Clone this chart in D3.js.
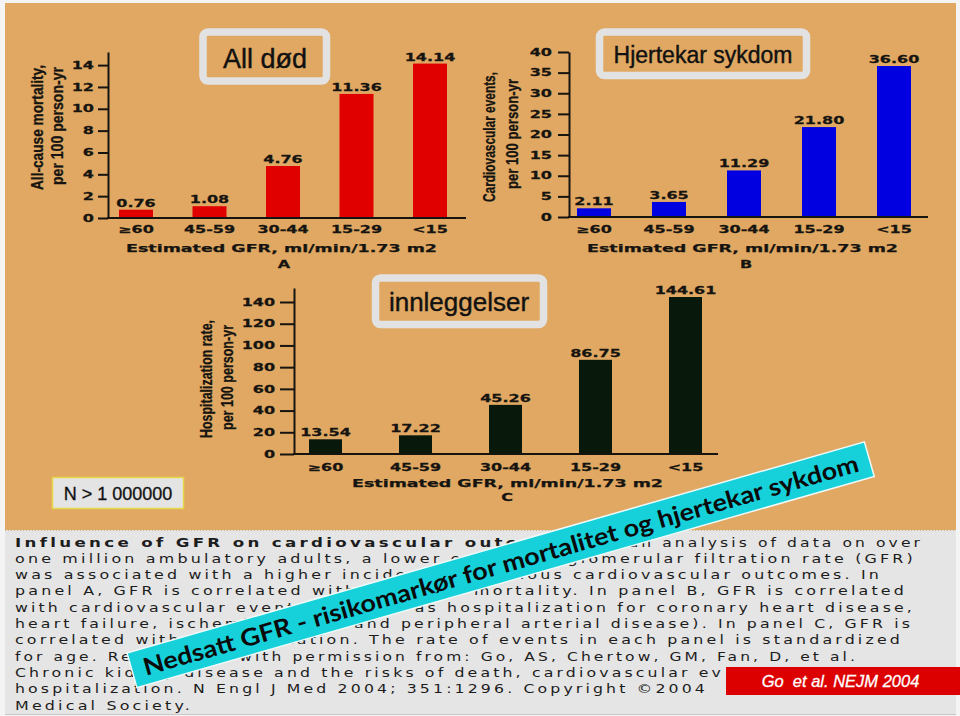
<!DOCTYPE html>
<html><head><meta charset="utf-8">
<script src="https://cdn.jsdelivr.net/npm/d3@7"></script>
<style>html,body{margin:0;padding:0;background:#fff}svg{display:block}</style>
</head><body>
<svg id="c" width="960" height="716"></svg>
<script>
// ---------------- data ----------------
const categories = ["\u226560", "45-59", "30-44", "15-29", "<15"];
const mortality = [0.76, 1.08, 4.76, 11.36, 14.14];
const cvEvents = [2.11, 3.65, 11.29, 21.80, 36.60];
const hospitalization = [13.54, 17.22, 45.26, 86.75, 144.61];
const ticksA = [0, 2, 4, 6, 8, 10, 12, 14];
const ticksB = [0, 5, 10, 15, 20, 25, 30, 35, 40];
const ticksC = [0, 20, 40, 60, 80, 100, 120, 140];
const xTitle = "Estimated GFR, ml/min/1.73 m2";
const panelTitles = ["All d\u00f8d", "Hjertekar sykdom", "innleggelser"];
const yLabelsA = ["All-cause mortality,", "per 100 person-yr"];
const yLabelsB = ["Cardiovascular events,", "per 100 person-yr"];
const yLabelsC = ["Hospitalization rate,", "per 100 person-yr"];
const captionBold = "Influence of GFR on cardiovascular outcomes.";
const captionLines = [
  " In an analysis of data on over",
  "one million ambulatory adults, a lower estimated glomerular filtration rate (GFR)",
  "was associated with a higher incidence of various cardiovascular outcomes. In",
  "panel A, GFR is correlated with all-cause mortality. In panel B, GFR is correlated",
  "with cardiovascular events (defined as hospitalization for coronary heart disease,",
  "heart failure, ischemic stroke, and peripheral arterial disease). In panel C, GFR is",
  "correlated with hospitalization. The rate of events in each panel is standardized",
  "for age. Reproduced with permission from: Go, AS, Chertow, GM, Fan, D, et al.",
  "Chronic kidney disease and the risks of death, cardiovascular ev",
  "hospitalization. N Engl J Med 2004; 351:1296. Copyright \u00a92004",
  "Medical Society."
];
const banner = "Nedsatt GFR - risikomark\u00f8r for mortalitet og hjertekar sykdom";
const nLabel = "N > 1 000000";
const source = "Go  et al. NEJM 2004";

// ---------------- setup ----------------
const svg = d3.select("#c");
const ink = "#161410";
const bg = "#e0a862";
const SX = 1.6;
const pixFont = "'DejaVu Sans', sans-serif";
const fmt = d3.format(".2f");

svg.append("rect").attr("x", 0).attr("y", 0).attr("width", 960).attr("height", 716).attr("fill", "#f4f4f4");
svg.append("rect").attr("x", 5).attr("y", 3).attr("width", 951).attr("height", 528).attr("fill", bg);
svg.append("rect").attr("x", 5).attr("y", 530).attr("width", 951).attr("height", 184).attr("fill", "#e5e5e5");
svg.append("line").attr("x1", 5).attr("x2", 956).attr("y1", 530.5).attr("y2", 530.5)
  .attr("stroke", "#c9b48e").attr("stroke-width", 1).attr("stroke-dasharray", "1,2");
svg.append("line").attr("x1", 5).attr("x2", 956).attr("y1", 714.5).attr("y2", 714.5)
  .attr("stroke", "#c8c8c8").attr("stroke-width", 1);

function pixText(g, x, y, str, size, anchor) {
  return g.append("text")
    .attr("transform", `translate(${x},${y}) scale(${SX},1)`)
    .attr("text-anchor", anchor || "middle")
    .attr("font-family", pixFont).attr("font-weight", "bold")
    .attr("font-size", size).attr("fill", ink)
    .attr("stroke", ink).attr("stroke-width", 0.25).text(str);
}

function titleBox(x0, y0, x1, y1, text, cx, by, fs) {
  svg.append("rect").attr("x", x0).attr("y", y0).attr("width", x1 - x0).attr("height", y1 - y0)
    .attr("rx", 5).attr("fill", bg).attr("stroke", "#e2e2e2").attr("stroke-width", 7.5);
  svg.append("text").attr("x", cx).attr("y", by).attr("text-anchor", "middle")
    .attr("font-family", "'Liberation Sans', Arial, sans-serif").attr("font-size", fs)
    .attr("fill", "#111").attr("stroke", "#111").attr("stroke-width", 0.4).text(text);
}

function drawPanel(cfg, values, ticks, ylabs) {
  const g = svg.append("g");
  const x = d3.scalePoint().domain(categories).range([cfg.c0, cfg.c1]);
  const y = d3.scaleLinear().domain([0, cfg.yMax]).range([cfg.base, cfg.top]);

  g.selectAll("rect.bar").data(values).join("rect").attr("class", "bar")
    .attr("x", (d, i) => x(categories[i]) - cfg.bw / 2)
    .attr("y", d => y(d)).attr("width", cfg.bw)
    .attr("height", d => y(0) - y(d)).attr("fill", cfg.color);

  values.forEach((d, i) => pixText(g, x(categories[i]), y(d) - 3, fmt(d), 10));

  const ax = g.append("g").attr("transform", `translate(${cfg.ax},0)`)
    .call(d3.axisLeft(y).tickValues(ticks).tickSize(cfg.tick).tickSizeOuter(0).tickPadding(cfg.pad));
  ax.select(".domain").attr("stroke", ink).attr("stroke-width", 2);
  ax.selectAll(".tick line").attr("stroke", ink).attr("stroke-width", 2);
  ax.selectAll(".tick text")
    .attr("x", -(cfg.tick + cfg.pad) / SX)
    .attr("transform", `scale(${SX},1)`)
    .attr("font-family", pixFont).attr("font-weight", "bold").attr("font-size", 10)
    .attr("fill", ink).attr("stroke", ink).attr("stroke-width", 0.25);

  g.append("line").attr("x1", cfg.ax - 1).attr("x2", cfg.xEnd)
    .attr("y1", y(0)).attr("y2", y(0)).attr("stroke", ink).attr("stroke-width", 2);

  categories.forEach(c => pixText(g, x(c), cfg.catY, c, 10));

  g.append("text").attr("x", cfg.titleX).attr("y", cfg.titleY).attr("text-anchor", "middle")
    .attr("font-family", pixFont).attr("font-weight", "bold").attr("font-size", 11)
    .attr("textLength", 311).attr("lengthAdjust", "spacingAndGlyphs")
    .attr("fill", ink).attr("stroke", ink).attr("stroke-width", 0.25).text(xTitle);
  pixText(g, cfg.letterX, cfg.letterY, cfg.letter, 10);

  ylabs.forEach((t, i) => {
    g.append("text")
      .attr("transform", `translate(${cfg.ylab[i][0]},${cfg.ylab[i][1]}) rotate(-90)`)
      .attr("text-anchor", "middle")
      .attr("font-family", "'Liberation Sans', Arial, sans-serif").attr("font-weight", "bold")
      .attr("font-size", 16).attr("textLength", cfg.ylab[i][2]).attr("lengthAdjust", "spacingAndGlyphs")
      .attr("fill", ink).attr("stroke", ink).attr("stroke-width", 0.3).text(t);
  });
}

// panels
drawPanel({ax: 108, base: 218, top: 52, yMax: 15.2, xEnd: 466, c0: 136, c1: 430, bw: 34,
  tick: 10, pad: 4, catY: 233, titleX: 281.5, titleY: 252, letterX: 284, letterY: 268, letter: "A",
  ylab: [[43, 127.5, 125], [63, 126, 118]], color: "#e00000"}, mortality, ticksA, yLabelsA);
drawPanel({ax: 569, base: 217, top: 52, yMax: 40, xEnd: 928, c0: 594, c1: 894, bw: 34,
  tick: 11, pad: 6, catY: 233, titleX: 742.5, titleY: 252, letterX: 746, letterY: 268, letter: "B",
  ylab: [[495, 137, 130], [518, 134, 110]], color: "#0000e0"}, cvEvents, ticksB, yLabelsB);
drawPanel({ax: 294, base: 454, top: 288, yMax: 152.9, xEnd: 718, c0: 325.5, c1: 685.5, bw: 33,
  tick: 14, pad: 5, catY: 471, titleX: 507.5, titleY: 487, letterX: 507, letterY: 501, letter: "C",
  ylab: [[212, 379, 118], [233, 377.5, 105]], color: "#08180a"}, hospitalization, ticksC, yLabelsC);

// title boxes
titleBox(203, 32, 326.5, 81, panelTitles[0], 265, 68, 27);
titleBox(599.5, 32, 806.5, 75.5, panelTitles[1], 703, 63, 23);
titleBox(375.5, 278, 543.5, 324.5, panelTitles[2], 459, 311, 26);

// N box
svg.append("rect").attr("x", 52.5).attr("y", 477.5).attr("width", 131).attr("height", 31)
  .attr("fill", "#e4e4e4").attr("stroke", "#e6d84a").attr("stroke-width", 1.5);
svg.append("text").attr("x", 118).attr("y", 500).attr("text-anchor", "middle")
  .attr("font-family", "'Liberation Sans', Arial, sans-serif").attr("font-size", 18)
  .attr("fill", "#111").attr("stroke", "#111").attr("stroke-width", 0.3).text(nLabel);

// caption text
const capFont = "'DejaVu Sans', sans-serif";
const lineEnds = [923, 916, 882, 907, 915, 913, 903, 858, 724, 708, 193];
const capY = i => 546.5 + 16.3 * i;
svg.append("text").attr("x", 15).attr("y", capY(0))
  .attr("font-family", capFont).attr("font-size", 12.5).attr("font-weight", "bold")
  .attr("letter-spacing", 2.5)
  .attr("textLength", 577).attr("lengthAdjust", "spacingAndGlyphs").attr("fill", "#1c1c1c").text(captionBold);
captionLines.forEach((t, i) => {
  const x0 = i === 0 ? 592 : 15;
  svg.append("text").attr("x", x0).attr("y", capY(i))
    .attr("font-family", capFont).attr("font-size", 12.5).attr("letter-spacing", 2.5)
    .attr("textLength", lineEnds[i] - x0).attr("lengthAdjust", "spacingAndGlyphs")
    .attr("fill", "#1c1c1c").style("white-space", "pre").text(t);
});

// banner
const bn = svg.append("g").attr("transform", "translate(127,653) rotate(-15.98)");
bn.append("rect").attr("x", 0).attr("y", 0).attr("width", 767).attr("height", 36)
  .attr("fill", "#16d0da").attr("stroke", "#eefafa").attr("stroke-width", 1.5);
bn.append("text").attr("x", 12).attr("y", 27)
  .attr("font-family", "Lato, 'DejaVu Sans', sans-serif").attr("font-weight", "bold").attr("font-size", 24)
  .attr("textLength", 743).attr("lengthAdjust", "spacingAndGlyphs")
  .attr("fill", "#0a0a0a").text(banner);

// source box
svg.append("rect").attr("x", 726).attr("y", 667).attr("width", 234).attr("height", 28).attr("fill", "#dc0000");
svg.append("text").attr("x", 840.5).attr("y", 687).attr("text-anchor", "middle")
  .attr("font-family", "'Liberation Sans', Arial, sans-serif").attr("font-style", "italic")
  .attr("font-size", 16.5).attr("fill", "#fff").attr("stroke", "#fff").attr("stroke-width", 0.3)
  .style("white-space", "pre").text(source);
</script>
</body></html>
